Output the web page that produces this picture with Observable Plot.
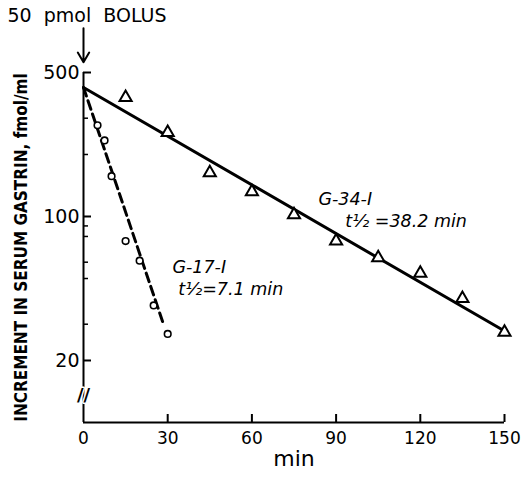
<!DOCTYPE html>
<html>
<head>
<meta charset="utf-8">
<script src="https://cdn.jsdelivr.net/npm/d3@7"></script>
<script src="https://cdn.jsdelivr.net/npm/@observablehq/plot@0.6"></script>
<style>
  html, body { margin: 0; padding: 0; background: #fff; }
  #chart svg { display: block; }
</style>
</head>
<body>
<div id="chart"></div>
<script>
// ---- data ----
const g34Time = [15, 30, 45, 60, 75, 90, 105, 120, 135, 150];
const g34Value = [378, 256, 163, 132, 102, 76, 63, 53, 40, 27.4];
const g17Time = [5, 7.5, 10, 15, 20, 25, 30];
const g17Value = [277, 234, 157, 76, 61, 37, 26.9];
// fitted regression lines (end points)
const g34FitTime = [0, 150];
const g34FitValue = [423, 27.8];
const g17FitTime = [0, 28.5];
const g17FitValue = [423, 30];
// axis ticks
const xTicks = [0, 30, 60, 90, 120, 150];
const yMajorTicks = [500, 100, 20];
const yMinorTicks = [300, 200, 90, 80, 60, 50, 30];
// labels
const titleText = "50  pmol  BOLUS";
const yLabel = "INCREMENT IN SERUM GASTRIN, fmol/ml";
const xLabel = "min";
const annotations = [
  {label: "G-34-I", t: 83.7, v: 114},
  {label: "t½ =38.2 min", t: 93.3, v: 89},
  {label: "G-17-I", t: 31.7, v: 53},
  {label: "t½=7.1 min", t: 33.8, v: 41.5}
];

const g34 = g34Time.map((t, i) => ({t, v: g34Value[i]}));
const g17 = g17Time.map((t, i) => ({t, v: g17Value[i]}));
const g34Fit = g34FitTime.map((t, i) => ({t, v: g34FitValue[i]}));
const g17Fit = g17FitTime.map((t, i) => ({t, v: g17FitValue[i]}));

const font = "'DejaVu Sans', sans-serif";

const chart = Plot.plot({
  width: 521,
  height: 477,
  marginLeft: 83,
  marginRight: 17,
  marginTop: 72,
  marginBottom: 55,
  style: {fontFamily: font, background: "#fff", color: "#000", overflow: "visible"},
  x: {domain: [0, 150]},
  y: {type: "log", domain: [10, 500]},
  marks: [
    // axis lines
    Plot.ruleX([0], {stroke: "#000", strokeWidth: 2}),
    Plot.ruleY([10], {stroke: "#000", strokeWidth: 2}),
    // axis break
    Plot.text(["//"], {x: 0, y: 13.5, text: d => d, fontSize: 18, fontWeight: "bold", fill: "#000", stroke: "#fff", strokeWidth: 3, paintOrder: "stroke"}),
    // x tick labels
    Plot.axisX({ticks: xTicks, tickSize: 0, tickPadding: 9, fontSize: 17, tickFormat: d => String(d), label: null}),
    // x tick marks (inward)
    Plot.axisX({ticks: xTicks.slice(1), tickSize: 8, dy: -8, text: null, strokeWidth: 2, label: null}),
    // y labels
    Plot.axisY({ticks: yMajorTicks, tickSize: 0, tickPadding: 4, fontSize: 19, tickFormat: d => String(d), label: null}),
    Plot.axisY({ticks: yMajorTicks, tickSize: 8, dx: 8, text: null, strokeWidth: 2, label: null}),
    Plot.axisY({ticks: yMinorTicks, tickSize: 5, dx: 5, text: null, strokeWidth: 1.5, label: null}),
    // fitted lines
    Plot.line(g34Fit, {x: "t", y: "v", stroke: "#000", strokeWidth: 3}),
    Plot.line(g17Fit, {x: "t", y: "v", stroke: "#000", strokeWidth: 3, strokeDasharray: "9,5"}),
    // data points
    Plot.dot(g34, {x: "t", y: "v", symbol: "triangle", r: 4.5, stroke: "#000", strokeWidth: 2, fill: "#fff"}),
    Plot.dot(g17, {x: "t", y: "v", symbol: "circle", r: 3.3, stroke: "#000", strokeWidth: 1.6, fill: "#fff"}),
    // bolus arrow
    Plot.arrow([{t: 0, v1: 820, v2: 560}], {x: "t", y1: "v1", y2: "v2", stroke: "#000", strokeWidth: 2, headLength: 10}),
    Plot.text([titleText], {frameAnchor: "top-left", dx: -76, dy: -64, textAnchor: "start", lineAnchor: "top", fontSize: 19, text: d => d}),
    // axis labels
    Plot.text([yLabel], {frameAnchor: "left", dx: -62, rotate: -90, textAnchor: "middle", fontSize: 17, fontWeight: "bold", fontFamily: "'DejaVu Sans Condensed', 'DejaVu Sans', sans-serif", text: d => d}),
    Plot.text([xLabel], {frameAnchor: "bottom", dy: 43, fontSize: 22, text: d => d}),
    // annotations
    Plot.text(annotations, {x: "t", y: "v", text: "label", textAnchor: "start", lineAnchor: "bottom", fontSize: 17.5, fontStyle: "italic"})
  ]
});
document.getElementById("chart").appendChild(chart);
</script>
</body>
</html>
